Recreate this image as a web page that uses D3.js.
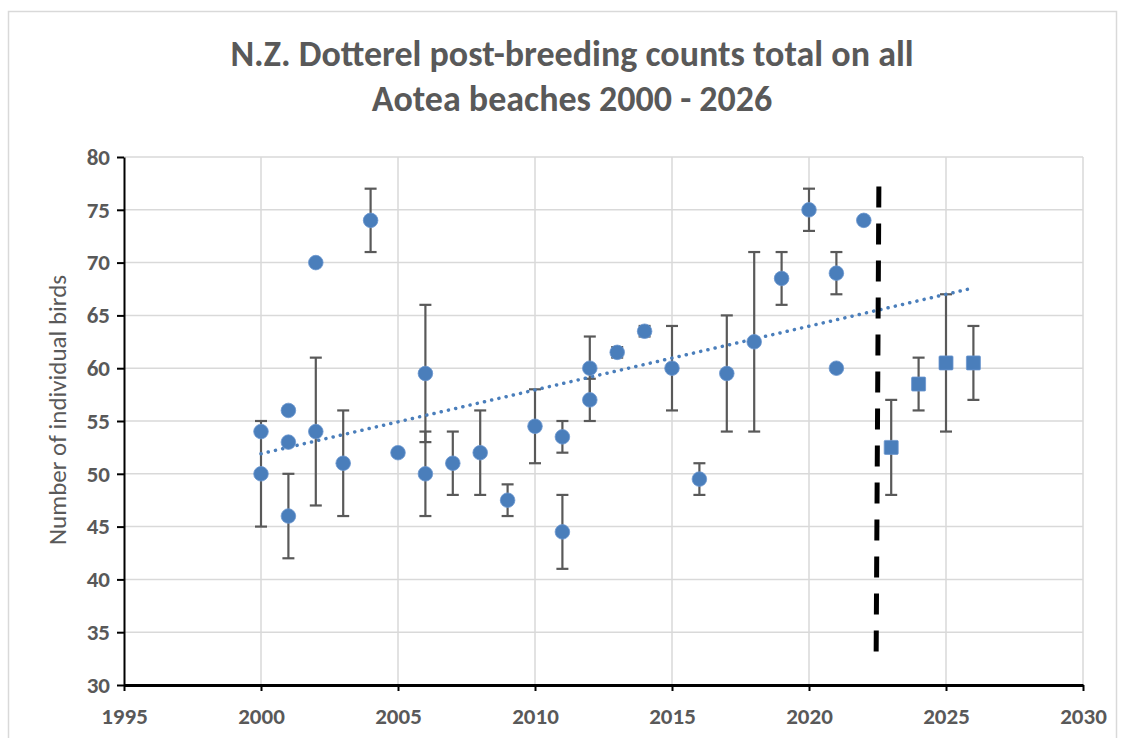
<!DOCTYPE html>
<html>
<head>
<meta charset="utf-8">
<script src="https://cdn.jsdelivr.net/npm/d3@7"></script>
<style>
  body { margin: 0; background: #fff; }
  text { font-family: Carlito, Calibri, Lato, sans-serif; }
</style>
</head>
<body>
<svg id="chart"></svg>
<script>
// counts (circles = past seasons, squares = recent)
var circleYears  = [2000, 2000, 2001, 2001, 2001, 2002, 2002, 2003, 2004, 2005, 2006, 2006, 2007, 2008, 2009, 2010, 2011, 2011, 2012, 2012, 2013, 2014, 2015, 2016, 2017, 2018, 2019, 2020, 2021, 2021, 2022];
var circleCounts = [54,   50,   56,   53,   46,   70,   54,   51,   74,   52,   59.5, 50,   51,   52,   47.5, 54.5, 53.5, 44.5, 60,   57,   61.5, 63.5, 60,   49.5, 59.5, 62.5, 68.5, 75,   69,   60,   74];
var circleLow    = [null, 45,   null, null, 42,   null, 47,   46,   71,   null, 53,   46,   48,   48,   46,   51,   52,   41,   57,   55,   61,   63,   56,   48,   54,   54,   66,   73,   67,   null, null];
var circleHigh   = [null, 55,   null, null, 50,   null, 61,   56,   77,   null, 66,   54,   54,   56,   49,   58,   55,   48,   63,   59,   62,   64,   64,   51,   65,   71,   71,   77,   71,   null, null];

var squareYears  = [2023, 2024, 2025, 2026];
var squareCounts = [52.5, 58.5, 60.5, 60.5];
var squareLow    = [48,   56,   54,   57];
var squareHigh   = [57,   61,   67,   64];

// trendline end points and the dashed cut-off line
var trendYears  = [2000, 2026];
var trendValues = [51.9, 67.6];
var cutYears    = [2022.55, 2022.45];
var cutValues   = [77.2, 32.6];

var xTicks = [1995, 2000, 2005, 2010, 2015, 2020, 2025, 2030];
var yTicks = [30, 35, 40, 45, 50, 55, 60, 65, 70, 75, 80];

var titleLines = ["N.Z. Dotterel post-breeding counts total on all", "Aotea beaches 2000 - 2026"];
var yTitle = "Number of individual birds";

var width = 1125, height = 738;
var blue = "#4a7ebb", grey = "#595959";

var svg = d3.select("#chart").attr("width", width).attr("height", height);

// chart frame
svg.append("rect")
    .attr("x", 8.5).attr("y", 11.5)
    .attr("width", 1108).attr("height", 760)
    .attr("fill", "none").attr("stroke", "#d9d9d9").attr("stroke-width", 1.5);

var x = d3.scaleLinear().domain([1995, 2030]).range([124, 1083]);
var y = d3.scaleLinear().domain([30, 80]).range([685, 157]);

// gridlines
svg.append("g").selectAll("line").data(yTicks.slice(1)).join("line")
    .attr("x1", x(1995)).attr("x2", x(2030))
    .attr("y1", d => y(d)).attr("y2", d => y(d))
    .attr("stroke", "#d9d9d9").attr("stroke-width", 1.5);
svg.append("g").selectAll("line").data(xTicks.slice(1)).join("line")
    .attr("x1", d => x(d)).attr("x2", d => x(d))
    .attr("y1", y(30)).attr("y2", y(80))
    .attr("stroke", "#d9d9d9").attr("stroke-width", 1.5);

// axes
var yAxis = svg.append("g")
    .attr("transform", "translate(" + x(1995) + ",0)")
    .call(d3.axisLeft(y).tickValues(yTicks).tickSize(7).tickSizeOuter(0).tickPadding(7));
var xAxis = svg.append("g")
    .attr("transform", "translate(0," + y(30) + ")")
    .call(d3.axisBottom(x).tickValues(xTicks).tickFormat(d3.format("d")).tickSize(6).tickSizeOuter(0).tickPadding(17));

yAxis.select(".domain").attr("stroke", "#000").attr("stroke-width", 2);
xAxis.select(".domain").attr("stroke", "#000").attr("stroke-width", 3);
svg.selectAll(".tick line").attr("stroke", "#000").attr("stroke-width", 2);
svg.selectAll(".tick text")
    .attr("fill", grey).attr("font-size", 23).attr("font-weight", "bold")
    .style("font-family", "Carlito, Calibri, Lato, sans-serif");

// error bars (drawn under the markers)
function errorBars(years, lows, highs) {
  var rows = years.map((yr, i) => ({ year: yr, lo: lows[i], hi: highs[i] }))
                  .filter(d => d.lo != null);
  var g = svg.append("g").attr("stroke", "#595959").attr("stroke-width", 2.2);
  g.selectAll(".stem").data(rows).join("line")
      .attr("x1", d => x(d.year)).attr("x2", d => x(d.year))
      .attr("y1", d => y(d.lo)).attr("y2", d => y(d.hi));
  [ "lo", "hi" ].forEach(k => {
    g.selectAll(".cap-" + k).data(rows).join("line")
        .attr("x1", d => x(d.year) - 6).attr("x2", d => x(d.year) + 6)
        .attr("y1", d => y(d[k])).attr("y2", d => y(d[k]));
  });
}
errorBars(circleYears, circleLow, circleHigh);
errorBars(squareYears, squareLow, squareHigh);

// dotted trendline
var line = d3.line().x(d => x(d[0])).y(d => y(d[1]));
svg.append("path")
    .attr("d", line(d3.zip(trendYears, trendValues)))
    .attr("fill", "none").attr("stroke", blue).attr("stroke-width", 3.5)
    .attr("stroke-linecap", "round").attr("stroke-dasharray", "0.1 7.3");

// markers
svg.append("g").selectAll("circle").data(d3.zip(circleYears, circleCounts)).join("circle")
    .attr("cx", d => x(d[0])).attr("cy", d => y(d[1])).attr("r", 7.3)
    .attr("fill", blue).attr("stroke", "#6a96cf").attr("stroke-width", 0.8);
svg.append("g").selectAll("rect").data(d3.zip(squareYears, squareCounts)).join("rect")
    .attr("x", d => x(d[0]) - 7).attr("y", d => y(d[1]) - 7)
    .attr("width", 14).attr("height", 14).attr("rx", 1)
    .attr("fill", blue).attr("stroke", "#6a96cf").attr("stroke-width", 0.8);

// dashed cut-off line
svg.append("path")
    .attr("d", line(d3.zip(cutYears, cutValues)))
    .attr("fill", "none").attr("stroke", "#000").attr("stroke-width", 5)
    .attr("stroke-dasharray", "21 16");

// titles
svg.append("g").selectAll("text").data(titleLines).join("text")
    .attr("x", 572).attr("y", (d, i) => 66 + i * 45)
    .attr("text-anchor", "middle")
    .attr("font-size", 36).attr("font-weight", "bold").attr("fill", grey)
    .text(d => d);

svg.append("text")
    .attr("transform", "translate(66,410) rotate(-90)")
    .attr("text-anchor", "middle")
    .attr("font-size", 25).attr("fill", grey)
    .text(yTitle);
</script>
</body>
</html>
